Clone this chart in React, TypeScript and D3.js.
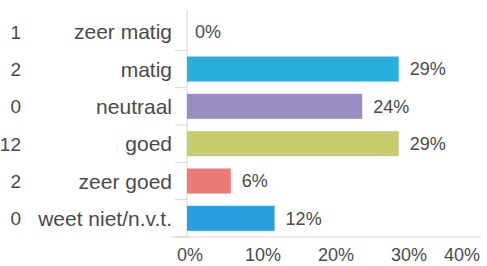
import React from "react";
import * as d3 from "d3";

const categories = ["zeer matig", "matig", "neutraal", "goed", "zeer goed", "weet niet/n.v.t."];
const counts = [1, 2, 0, 12, 2, 0];
const percents = [0, 29, 24, 29, 6, 12];
const colors = ["#2aaedc", "#2aaedc", "#9a8dbf", "#c5cc6b", "#ec7b78", "#2b9ede"];
const xTicks = [0, 10, 20, 30, 40];

const W = 487;
const H = 266;

export default function App() {
  const x = d3.scaleLinear().domain([0, 40]).range([187, 479]);
  const y = d3.scaleBand<string>().domain(categories).range([13, 237]).paddingInner(0.33).paddingOuter(0.165);
  const step = y.step();
  const font = "'Liberation Sans', Arial, sans-serif";
  const textColor = "#4a4a4a";
  const bounds = d3.range(categories.length + 1).map((i) => 13 + i * step);
  return (
    <svg width={W} height={H} style={{ position: "absolute", left: 0, top: 0, background: "#fff" }} fontFamily={font}>
      <rect x={0} y={0} width={W} height={H} fill="#fff" />
      {/* vertical axis */}
      <line x1={x(0)} x2={x(0)} y1={10} y2={bounds[bounds.length - 1]} stroke="#d4d4d4" strokeWidth={1} />
      {bounds.slice(1).map((b, i) => (
        <line key={"t" + i} x1={175} x2={x(0)} y1={b} y2={b} stroke="#d4d4d4" strokeWidth={1} />
      ))}
      {/* horizontal axis */}
      <line x1={172} x2={481} y1={bounds[bounds.length - 1]} y2={bounds[bounds.length - 1]} stroke="#d4d4d4" strokeWidth={1} />
      {categories.map((c, i) => {
        const cy = (y(c) as number) + y.bandwidth() / 2;
        return (
          <g key={c}>
            <rect x={x(0)} y={y(c)} width={x(percents[i]) - x(0)} height={y.bandwidth()} fill={colors[i]} />
            <text x={x(percents[i]) + (percents[i] === 0 ? 8 : 11)} y={cy} dy="0.36em" fontSize={18} fill={textColor}>
              {percents[i]}%
            </text>
            <text x={172} y={cy} dy="0.36em" fontSize={21} textAnchor="end" fill={textColor}>
              {c}
            </text>
            <text x={21} y={cy} dy="0.36em" fontSize={19} textAnchor="end" fill={textColor}>
              {counts[i]}
            </text>
          </g>
        );
      })}
      {xTicks.map((t, i) => {
        const px = x(t);
        const last = i === xTicks.length - 1;
        return (
          <text key={"x" + t} x={last ? 480 : px + 3} y={261} fontSize={18} textAnchor={last ? "end" : "middle"} fill={textColor}>
            {t}%
          </text>
        );
      })}
    </svg>
  );
}
